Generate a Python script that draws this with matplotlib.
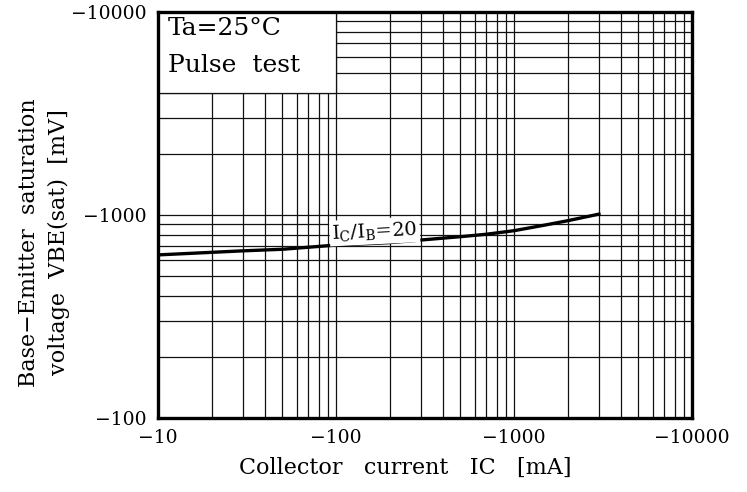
import matplotlib
matplotlib.use("Agg")
import matplotlib.pyplot as plt
from matplotlib.patches import Rectangle
from matplotlib.ticker import FixedLocator, FixedFormatter, NullFormatter

plt.rcParams['font.family'] = ['DejaVu Serif']

# Collector current |IC| [mA] and VBE(sat) magnitude [mV], Ic/Ib = 20
ic_ma = [10, 30, 50, 100, 200, 300, 500, 700, 1000, 1500, 2000, 3000]
vbe_mv = [636, 666, 678, 711, 731, 753, 782, 804, 837, 893, 937, 1010]

x_ticks = [10, 100, 1000, 10000]
x_tick_labels = ['\u221210', '\u2212100', '\u22121000', '\u221210000']
y_ticks = [100, 1000, 10000]
y_tick_labels = ['\u2212100', '\u22121000', '\u221210000']

fig = plt.figure(figsize=(7.47, 4.92), dpi=100)
ax = fig.add_axes([0.2115, 0.1504, 0.7149, 0.8252])

ax.set_xscale('log')
ax.set_yscale('log')
ax.set_xlim(10, 10000)
ax.set_ylim(100, 10000)

# grid on every 1..9 subdivision
minor_x = [m * d for d in (10, 100, 1000) for m in range(2, 10)]
minor_y = [m * d for d in (100, 1000) for m in range(2, 10)]
ax.xaxis.set_major_locator(FixedLocator(x_ticks))
ax.xaxis.set_major_formatter(FixedFormatter(x_tick_labels))
ax.xaxis.set_minor_locator(FixedLocator(minor_x))
ax.xaxis.set_minor_formatter(NullFormatter())
ax.yaxis.set_major_locator(FixedLocator(y_ticks))
ax.yaxis.set_major_formatter(FixedFormatter(y_tick_labels))
ax.yaxis.set_minor_locator(FixedLocator(minor_y))
ax.yaxis.set_minor_formatter(NullFormatter())

ax.grid(True, which='both', color='#111111', linewidth=0.9)
ax.tick_params(which='both', length=0, labelsize=13.5, pad=8)

for s in ax.spines.values():
    s.set_linewidth(2.4)
    s.set_color('black')

ax.plot(ic_ma, vbe_mv, color='black', linewidth=2.4, zorder=3)

# white condition box in the upper left corner
ax.add_patch(Rectangle((10, 4000), 90, 6000, facecolor='white', edgecolor='#111111',
                       linewidth=0.9, zorder=2))
ax.text(11.4, 9400, 'Ta=25\u00b0C\nPulse  test', fontsize=18, va='top', ha='left',
        linespacing=1.75, zorder=3)

ax.text(165, 830, 'I$\\mathregular{_C}$/I$\\mathregular{_B}$=20', fontsize=14,
        rotation=2.8, ha='center', va='center', zorder=4,
        bbox=dict(boxstyle='square,pad=0.12', facecolor='white', edgecolor='none'))

ax.set_xlabel('Collector   current   IC   [mA]', fontsize=16)
ax.xaxis.set_label_coords(0.4625, -0.095)
ax.set_ylabel('Base\u2212Emitter  saturation\nvoltage  VBE(sat)  [mV]', fontsize=16,
              linespacing=1.45)
ax.yaxis.set_label_coords(-0.165, 0.433)

fig.savefig('out.png', dpi=100)
